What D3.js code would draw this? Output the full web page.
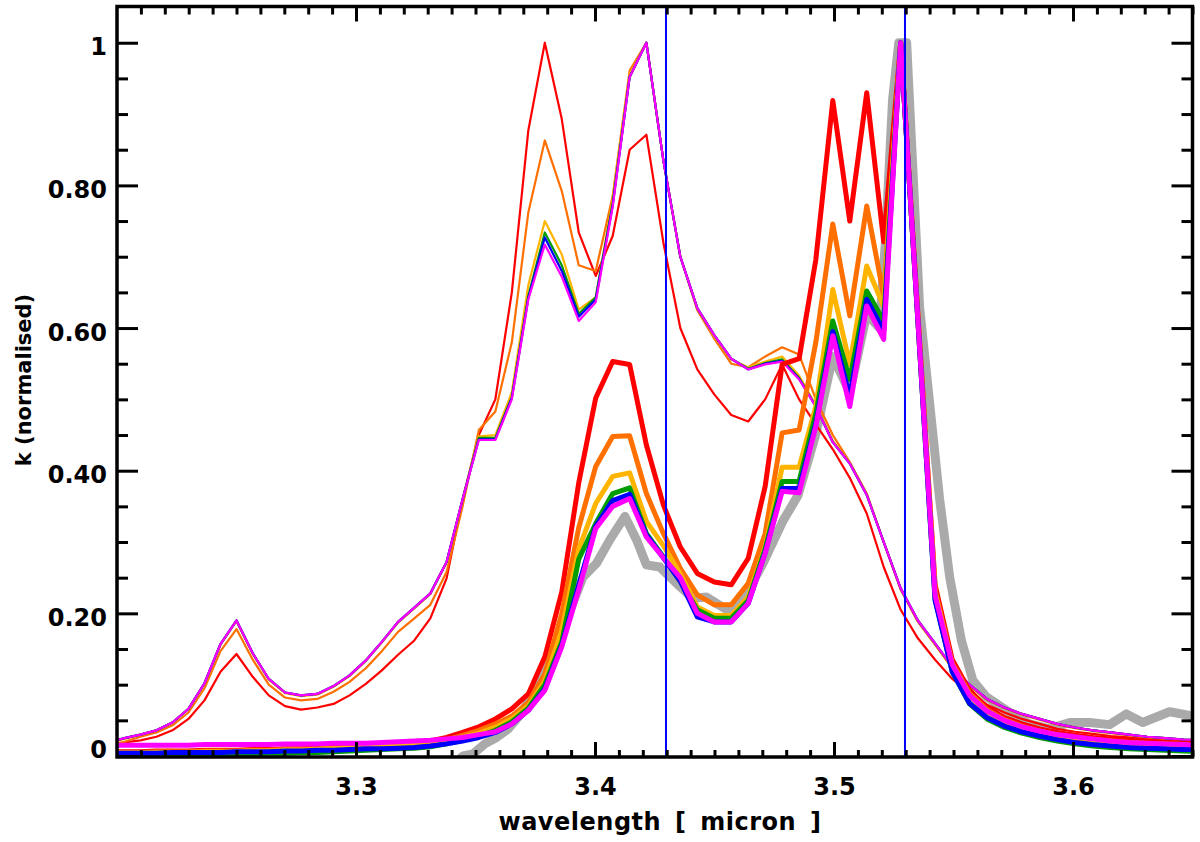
<!DOCTYPE html>
<html>
<head>
<meta charset="utf-8">
<script src="https://cdn.jsdelivr.net/npm/d3@7"></script>
<style>
body { margin: 0; background: #ffffff; }
svg text { font-family: "DejaVu Sans", sans-serif; font-weight: bold; fill: #000; }
</style>
</head>
<body>
<svg id="drawing_region"></svg>
<script>
// model grid (micron)
const wavelength = [3.1964,3.2031,3.2098,3.2165,3.2232,3.2299,3.2366,3.2433,3.2500,3.2568,
    3.2635,3.2703,3.2770,3.2838,3.2906,3.2973,3.3041,3.3108,3.3176,3.3244,
    3.3311,3.3379,3.3446,3.3514,3.3583,3.3652,3.3721,3.3790,3.3861,3.3932,
    3.4003,3.4074,3.4145,3.4215,3.4286,3.4357,3.4428,3.4499,3.4570,3.4641,
    3.4712,3.4783,3.4854,3.4924,3.4995,3.5066,3.5137,3.5208,3.5279,3.5351,
    3.5423,3.5495,3.5567,3.5640,3.5713,3.5786,3.5860,3.5934,3.6008,3.6083,
    3.6158,3.6234,3.6310,3.6386,3.6463,3.6540];

// thin curves
const thinRed = [0.014,0.019,0.022,0.027,0.036,0.052,0.078,0.118,0.143,0.111,
    0.085,0.070,0.065,0.068,0.073,0.085,0.101,0.120,0.142,0.162,
    0.193,0.249,0.360,0.450,0.500,0.650,0.877,1.000,0.893,0.734,
    0.673,0.729,0.850,0.871,0.720,0.600,0.542,0.507,0.478,0.469,
    0.500,0.549,0.500,0.465,0.430,0.390,0.340,0.265,0.205,0.165,
    0.135,0.108,0.088,0.072,0.061,0.052,0.045,0.038,0.034,0.031,
    0.028,0.026,0.024,0.022,0.020,0.019];
const thinOrange = [0.015,0.020,0.027,0.033,0.043,0.061,0.095,0.147,0.178,0.135,
    0.100,0.082,0.078,0.080,0.090,0.104,0.123,0.147,0.174,0.193,
    0.212,0.258,0.350,0.457,0.483,0.580,0.762,0.863,0.792,0.688,
    0.680,0.785,0.961,1.000,0.835,0.700,0.625,0.585,0.550,0.545,
    0.560,0.573,0.563,0.500,0.450,0.412,0.368,0.300,0.233,0.188,
    0.156,0.123,0.098,0.079,0.067,0.058,0.051,0.044,0.039,0.035,
    0.032,0.029,0.026,0.024,0.022,0.021];
const thinYellow = [0.018,0.024,0.030,0.036,0.047,0.066,0.101,0.156,0.189,0.143,
    0.107,0.088,0.084,0.086,0.097,0.112,0.133,0.159,0.187,0.207,
    0.227,0.271,0.360,0.448,0.450,0.510,0.660,0.750,0.703,0.626,
    0.643,0.780,0.955,1.000,0.835,0.700,0.627,0.588,0.556,0.545,
    0.553,0.560,0.533,0.492,0.442,0.411,0.367,0.300,0.235,0.189,
    0.157,0.124,0.099,0.080,0.068,0.059,0.052,0.045,0.040,0.036,
    0.033,0.030,0.027,0.025,0.023,0.022];
const thinGreen = [0.019,0.025,0.030,0.036,0.047,0.066,0.102,0.157,0.190,0.144,
    0.108,0.089,0.085,0.087,0.098,0.113,0.134,0.160,0.188,0.208,
    0.228,0.272,0.360,0.446,0.446,0.503,0.645,0.734,0.688,0.620,
    0.643,0.775,0.952,1.000,0.835,0.700,0.628,0.590,0.557,0.543,
    0.551,0.556,0.530,0.490,0.440,0.410,0.366,0.300,0.235,0.190,
    0.158,0.125,0.100,0.080,0.068,0.059,0.052,0.045,0.040,0.036,
    0.033,0.030,0.027,0.025,0.023,0.022];
const thinBlue = [0.019,0.025,0.030,0.036,0.047,0.066,0.102,0.157,0.190,0.144,
    0.108,0.089,0.085,0.087,0.098,0.113,0.134,0.160,0.188,0.208,
    0.228,0.272,0.360,0.444,0.444,0.502,0.642,0.727,0.680,0.616,
    0.640,0.772,0.952,1.000,0.835,0.700,0.628,0.590,0.557,0.542,
    0.550,0.554,0.529,0.490,0.440,0.410,0.366,0.300,0.235,0.190,
    0.158,0.125,0.100,0.080,0.068,0.059,0.052,0.045,0.040,0.036,
    0.033,0.030,0.027,0.025,0.023,0.022];
const thinMagenta = [0.019,0.025,0.030,0.036,0.047,0.066,0.102,0.157,0.190,0.144,
    0.108,0.089,0.085,0.087,0.098,0.113,0.134,0.160,0.188,0.208,
    0.228,0.272,0.360,0.443,0.443,0.500,0.640,0.717,0.672,0.610,
    0.636,0.770,0.952,1.000,0.835,0.700,0.628,0.590,0.557,0.542,
    0.549,0.553,0.528,0.490,0.440,0.410,0.366,0.300,0.235,0.190,
    0.158,0.125,0.100,0.080,0.068,0.059,0.052,0.045,0.040,0.036,
    0.033,0.030,0.027,0.025,0.023,0.022];

// thick curves
const thickRed = [0.006,0.006,0.006,0.007,0.007,0.007,0.008,0.008,0.008,0.009,
    0.009,0.010,0.010,0.011,0.012,0.013,0.014,0.015,0.017,0.019,
    0.021,0.026,0.033,0.041,0.052,0.066,0.087,0.139,0.230,0.383,
    0.502,0.553,0.549,0.436,0.352,0.293,0.256,0.244,0.240,0.277,
    0.378,0.549,0.557,0.696,0.919,0.750,0.930,0.721,1.000,0.620,
    0.240,0.135,0.092,0.068,0.054,0.045,0.038,0.033,0.029,0.026,
    0.024,0.022,0.020,0.019,0.018,0.017];
const thickOrange = [0.005,0.005,0.005,0.006,0.006,0.006,0.007,0.007,0.007,0.008,
    0.008,0.009,0.009,0.010,0.011,0.012,0.013,0.014,0.015,0.017,
    0.019,0.023,0.029,0.036,0.045,0.056,0.075,0.115,0.200,0.320,
    0.406,0.448,0.449,0.368,0.312,0.263,0.226,0.212,0.212,0.242,
    0.312,0.453,0.457,0.580,0.746,0.617,0.771,0.645,1.000,0.615,
    0.232,0.130,0.088,0.065,0.051,0.042,0.035,0.030,0.026,0.023,
    0.021,0.019,0.018,0.017,0.016,0.015];
const thickYellow = [0.004,0.004,0.004,0.005,0.005,0.005,0.006,0.006,0.006,0.007,
    0.007,0.008,0.008,0.009,0.010,0.011,0.012,0.013,0.014,0.015,
    0.017,0.021,0.026,0.032,0.040,0.052,0.070,0.105,0.176,0.290,
    0.354,0.392,0.397,0.329,0.295,0.255,0.209,0.197,0.197,0.223,
    0.293,0.405,0.405,0.490,0.654,0.549,0.687,0.630,1.000,0.612,
    0.228,0.127,0.084,0.062,0.048,0.039,0.032,0.027,0.023,0.020,
    0.018,0.016,0.015,0.014,0.013,0.012];
const thickGreen = [0.000,0.000,0.001,0.001,0.001,0.002,0.002,0.002,0.003,0.003,
    0.004,0.004,0.005,0.005,0.006,0.007,0.008,0.009,0.010,0.011,
    0.013,0.017,0.022,0.028,0.036,0.048,0.067,0.100,0.160,0.276,
    0.326,0.368,0.376,0.312,0.279,0.245,0.205,0.193,0.193,0.218,
    0.290,0.385,0.385,0.480,0.610,0.528,0.652,0.610,1.000,0.610,
    0.220,0.118,0.073,0.052,0.040,0.032,0.026,0.021,0.017,0.014,
    0.012,0.010,0.009,0.008,0.007,0.006];
const thickBlue = [0.004,0.004,0.004,0.004,0.005,0.005,0.005,0.005,0.006,0.006,
    0.006,0.007,0.007,0.008,0.008,0.009,0.010,0.010,0.011,0.012,
    0.014,0.017,0.021,0.026,0.033,0.045,0.064,0.094,0.155,0.240,
    0.322,0.358,0.367,0.310,0.278,0.245,0.195,0.188,0.188,0.214,
    0.285,0.375,0.375,0.466,0.595,0.504,0.640,0.596,1.000,0.610,
    0.218,0.118,0.074,0.054,0.042,0.034,0.028,0.023,0.019,0.016,
    0.014,0.012,0.011,0.010,0.009,0.009];
const thickMagenta = [0.015,0.015,0.015,0.015,0.015,0.015,0.016,0.016,0.016,0.016,
    0.016,0.017,0.017,0.017,0.018,0.018,0.018,0.019,0.020,0.021,
    0.022,0.024,0.026,0.030,0.034,0.045,0.064,0.092,0.153,0.233,
    0.319,0.350,0.361,0.307,0.278,0.250,0.200,0.188,0.188,0.214,
    0.284,0.371,0.369,0.462,0.589,0.490,0.631,0.584,1.000,0.612,
    0.225,0.128,0.085,0.063,0.050,0.041,0.035,0.030,0.027,0.024,
    0.021,0.019,0.018,0.017,0.016,0.015];

// observed spectrum (grey)
const obsWavelength = [3.3414,3.3448,3.3490,3.3539,3.3588,3.3637,3.3685,3.3727,3.3783,3.3839,
    3.3895,3.3950,3.4006,3.4062,3.4125,3.4174,3.4215,3.4271,3.4341,3.4410,
    3.4466,3.4508,3.4557,3.4634,3.4703,3.4787,3.4849,3.4923,3.4995,3.5066,
    3.5137,3.5190,3.5215,3.5245,3.5271,3.5304,3.5358,3.5442,3.5484,3.5533,
    3.5581,3.5637,3.5721,3.5818,3.5902,3.5986,3.6069,3.6153,3.6223,3.6292,
    3.6404,3.6488,3.6530];
const obsValue = [-0.010,0.000,0.003,0.017,0.026,0.038,0.057,0.078,0.116,0.158,
    0.204,0.251,0.270,0.303,0.336,0.303,0.268,0.265,0.242,0.221,
    0.223,0.214,0.204,0.228,0.270,0.330,0.365,0.450,0.560,0.510,
    0.620,0.600,0.720,0.920,1.000,1.000,0.630,0.360,0.251,0.162,
    0.106,0.083,0.064,0.045,0.038,0.047,0.047,0.044,0.059,0.047,
    0.062,0.057,0.055];

const markerLines = [3.4297, 3.5297];
const xTickValues = [3.3, 3.4, 3.5, 3.6];
const yTickValues = [0, 0.2, 0.4, 0.6, 0.8, 1];
const yTickLabels = ["0", "0.20", "0.40", "0.60", "0.80", "1"];

const seriesColors = {
    red: "#ff0000", orange: "#ff7000", yellow: "#ffb400",
    green: "#009c00", blue: "#0000ff", magenta: "#ff00ff"
};

class SpectrumChart {
    constructor(config) {
        this.config = config;
        this.init();
    }

    init() {
        let self = this;
        self.svg = d3.select(self.config.parent)
            .attr('width', self.config.width)
            .attr('height', self.config.height);

        self.xscale = d3.scaleLinear()
            .domain([3.2, 3.65])
            .range([self.config.left, self.config.right]);

        self.yscale = d3.scaleLinear()
            .domain([-0.0014, 1.0508])
            .range([self.config.bottom, self.config.top]);

        self.svg.append('defs').append('clipPath')
            .attr('id', 'plot_clip')
            .append('rect')
            .attr('x', self.config.left)
            .attr('y', self.config.top)
            .attr('width', self.config.right - self.config.left)
            .attr('height', self.config.bottom - self.config.top);

        self.plot = self.svg.append('g').attr('clip-path', 'url(#plot_clip)');
    }

    render() {
        let self = this;
        const x = self.xscale, y = self.yscale;

        const line = d3.line()
            .x((d, i) => x(wavelength[i]))
            .y(d => y(d));

        // observed spectrum
        self.plot.append('path')
            .datum(obsValue)
            .attr('fill', 'none')
            .attr('stroke', '#aaaaaa')
            .attr('stroke-width', 9)
            .attr('stroke-linejoin', 'round')
            .attr('d', d3.line().x((d, i) => x(obsWavelength[i])).y(d => y(d)));

        const thin = [
            [thinRed, 'red'], [thinOrange, 'orange'], [thinYellow, 'yellow'],
            [thinGreen, 'green'], [thinBlue, 'blue'], [thinMagenta, 'magenta']
        ];
        const thick = [
            [thickRed, 'red'], [thickOrange, 'orange'], [thickYellow, 'yellow'],
            [thickGreen, 'green'], [thickBlue, 'blue'], [thickMagenta, 'magenta']
        ];

        self.plot.selectAll('.thin').data(thin).enter()
            .append('path')
            .attr('class', 'thin')
            .attr('fill', 'none')
            .attr('stroke', d => seriesColors[d[1]])
            .attr('stroke-width', 2.2)
            .attr('stroke-linejoin', 'round')
            .attr('d', d => line(d[0]));

        self.plot.selectAll('.thick').data(thick).enter()
            .append('path')
            .attr('class', 'thick')
            .attr('fill', 'none')
            .attr('stroke', d => seriesColors[d[1]])
            .attr('stroke-width', 5)
            .attr('stroke-linejoin', 'round')
            .attr('d', d => line(d[0]));

        // vertical markers
        self.plot.selectAll('.marker').data(markerLines).enter()
            .append('line')
            .attr('class', 'marker')
            .attr('x1', d => x(d)).attr('x2', d => x(d))
            .attr('y1', self.config.top).attr('y2', self.config.bottom)
            .attr('stroke', '#0000ff')
            .attr('stroke-width', 2);

        self.renderAxes();
    }

    renderAxes() {
        let self = this;
        const c = self.config;
        const x = self.xscale, y = self.yscale;
        const xMinor = d3.range(321, 366).map(v => v / 100);
        const yMinor = d3.range(1, 21).map(v => v * 0.05).filter(v => Math.round(v * 100) % 20 !== 0);

        const styleAxis = g => {
            g.select('.domain').remove();
            g.selectAll('.tick line').attr('stroke', '#000').attr('stroke-width', 3);
        };
        const styleText = g => g.selectAll('text').attr('font-size', 24)
            .style('font-family', '"DejaVu Sans", sans-serif').style('font-weight', 'bold');

        // bottom
        self.svg.append('g')
            .attr('transform', `translate(0, ${c.bottom})`)
            .call(d3.axisBottom(x).tickValues(xMinor).tickSize(-7).tickFormat(''))
            .call(styleAxis);
        self.svg.append('g')
            .attr('transform', `translate(0, ${c.bottom})`)
            .call(d3.axisBottom(x).tickValues(xTickValues).tickSize(-15).tickPadding(21)
                .tickFormat(d3.format('.1f')))
            .call(styleAxis)
            .call(styleText);

        // top
        self.svg.append('g')
            .attr('transform', `translate(0, ${c.top})`)
            .call(d3.axisTop(x).tickValues(xMinor).tickSize(-8).tickFormat(''))
            .call(styleAxis);
        self.svg.append('g')
            .attr('transform', `translate(0, ${c.top})`)
            .call(d3.axisTop(x).tickValues(xTickValues).tickSize(-15).tickFormat(''))
            .call(styleAxis);

        // left
        self.svg.append('g')
            .attr('transform', `translate(${c.left}, 0)`)
            .call(d3.axisLeft(y).tickValues(yMinor).tickSize(-11).tickFormat(''))
            .call(styleAxis);
        self.svg.append('g')
            .attr('transform', `translate(${c.left}, 0)`)
            .call(d3.axisLeft(y).tickValues(yTickValues).tickSize(-21).tickPadding(10)
                .tickFormat((d, i) => yTickLabels[i]))
            .call(styleAxis)
            .call(styleText)
            .call(g => g.selectAll('text').attr('dy', (d, i) => i === 0 ? '0.08em' : '0.5em'));

        // right
        self.svg.append('g')
            .attr('transform', `translate(${c.right}, 0)`)
            .call(d3.axisRight(y).tickValues(yMinor).tickSize(-11).tickFormat(''))
            .call(styleAxis);
        self.svg.append('g')
            .attr('transform', `translate(${c.right}, 0)`)
            .call(d3.axisRight(y).tickValues(yTickValues).tickSize(-21).tickFormat(''))
            .call(styleAxis);

        // frame
        self.svg.append('rect')
            .attr('x', c.left).attr('y', c.top)
            .attr('width', c.right - c.left).attr('height', c.bottom - c.top)
            .attr('fill', 'none')
            .attr('stroke', '#000')
            .attr('stroke-width', 3.5);

        // titles
        self.svg.append('text')
            .attr('x', 660)
            .attr('y', 830)
            .attr('text-anchor', 'middle')
            .attr('font-size', 24)
            .attr('word-spacing', 5)
            .attr('letter-spacing', 0.5)
            .text('wavelength [ micron ]');

        self.svg.append('text')
            .attr('transform', `translate(31, 380) rotate(-90)`)
            .attr('text-anchor', 'middle')
            .attr('font-size', 21)
            .text('k (normalised)');
    }
}

let chart = new SpectrumChart({
    parent: '#drawing_region',
    width: 1200,
    height: 842,
    left: 117,
    right: 1192.5,
    top: 6.5,
    bottom: 757
});
chart.render();
</script>
</body>
</html>
